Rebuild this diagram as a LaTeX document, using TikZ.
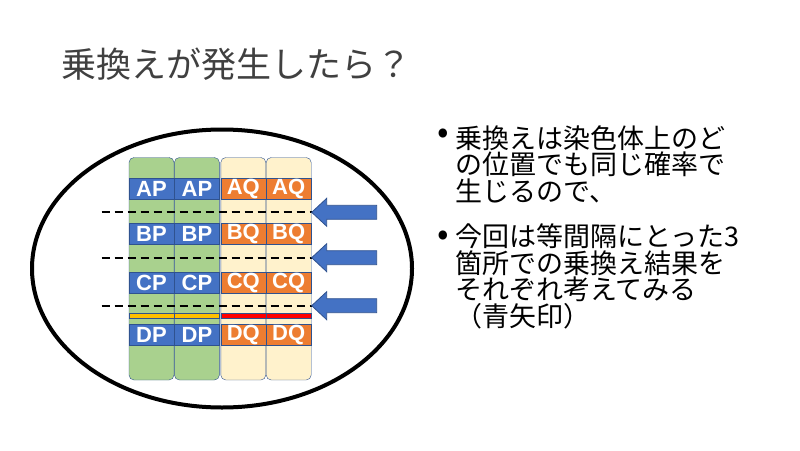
\documentclass[tikz,border=0pt]{standalone}
\usepackage{fontspec}
\newfontfamily\jpfont{Noto Sans CJK JP}
\newfontfamily\labelfont{Liberation Sans}
\definecolor{chrGreen}{HTML}{A9D18E}
\definecolor{chrCream}{HTML}{FFF2CC}
\definecolor{geneBlue}{HTML}{4472C4}
\definecolor{geneOrange}{HTML}{ED7D31}
\definecolor{edgeBlue}{HTML}{2F528F}
\definecolor{barYellow}{HTML}{FFC000}
\definecolor{barRed}{HTML}{FF0000}
\definecolor{titleGray}{HTML}{404040}
\usetikzlibrary{positioning,shapes.geometric}

\begin{document}
\begin{tikzpicture}[x=1pt, y=-1pt,
  chrom/.style={draw=edgeBlue, rounded corners=5pt, minimum width=45pt,
                minimum height=222.5pt, inner sep=0pt},
  gene/.style={draw=edgeBlue, minimum width=45pt, minimum height=21pt, inner sep=0pt,
               text=white, font=\labelfont\bfseries\fontsize{22}{22}\selectfont},
  bar/.style={draw=edgeBlue, line width=0.5pt, minimum width=45pt, minimum height=5pt, inner sep=0pt},
  cut/.style={dash pattern=on 8pt off 5pt, line width=2pt},
  xarrow/.style={draw=edgeBlue, fill=geneBlue, line width=0.8pt},
  dotmark/.style={anchor=center, inner sep=0pt, font=\jpfont\fontsize{34}{34}\selectfont},
  textblock/.style={anchor=base west, inner sep=0pt, align=left,
                    font=\jpfont\fontsize{27}{26.8}\selectfont}
]
  \useasboundingbox (0,0) rectangle (800,450);

  \node[draw, ellipse, line width=4pt, minimum width=380pt, minimum height=278pt] (cell) at (222,268.5) {};

  \node[anchor=base west, inner sep=0pt, text=titleGray,
        font=\jpfont\fontsize{35}{35}\selectfont] (title) at (61,77) {乗換えが発生したら？};

  % chromosomes
  \node[chrom, fill=chrGreen]                    (chrP1) at (151.5,268.75) {};
  \node[chrom, fill=chrGreen, right=0pt of chrP1] (chrP2) {};
  \node[chrom, fill=chrCream, right=1pt of chrP2] (chrQ1) {};
  \node[chrom, fill=chrCream, right=0pt of chrQ1] (chrQ2) {};

  % genes
  \foreach \g/\y in {A/188.8, B/233.8, C/282.8, D/334.8} {
    \node[gene, fill=geneBlue]   (\g P1) at (chrP1 |- 0,\y) {\g P};
    \node[gene, fill=geneBlue]   (\g P2) at (chrP2 |- 0,\y) {\g P};
    \node[gene, fill=geneOrange] (\g Q1) at (chrQ1 |- 0,\y) {\g Q};
    \node[gene, fill=geneOrange] (\g Q2) at (chrQ2 |- 0,\y) {\g Q};
  }

  \node[bar, fill=barYellow] (barP1) at (chrP1 |- 0,315.8) {};
  \node[bar, fill=barYellow] (barP2) at (chrP2 |- 0,315.8) {};
  \node[bar, fill=barRed]    (barQ1) at (chrQ1 |- 0,315.8) {};
  \node[bar, fill=barRed]    (barQ2) at (chrQ2 |- 0,315.8) {};

  % crossover points
  \foreach \n/\y in {1/212.3, 2/257.7, 3/305.7} {
    \coordinate (tip\n) at (311.7,\y);
    \coordinate (cutL\n) at (101.7,\y);
    \draw[cut] (cutL\n) -- (tip\n);
    \draw[xarrow] (tip\n) -- ++(15,-14) -- ++(0,7) -- ++(50,0) -- ++(0,14)
                  -- ++(-50,0) -- ++(0,7) -- cycle;
  }

  % last-line baselines
  \node[dotmark] (dot1) at (443,136.7) {•};
  \node[textblock] (item1) at (455,201.7) {乗換えは染色体上のど\\の位置でも同じ確率で\\生じるので、};
  \node[dotmark] (dot2) at (443,238) {•};
  \node[textblock] (item2) at (455,326.7) {今回は等間隔にとった3\\箇所での乗換え結果を\\それぞれ考えてみる\\（青矢印）};
\end{tikzpicture}
\end{document}
